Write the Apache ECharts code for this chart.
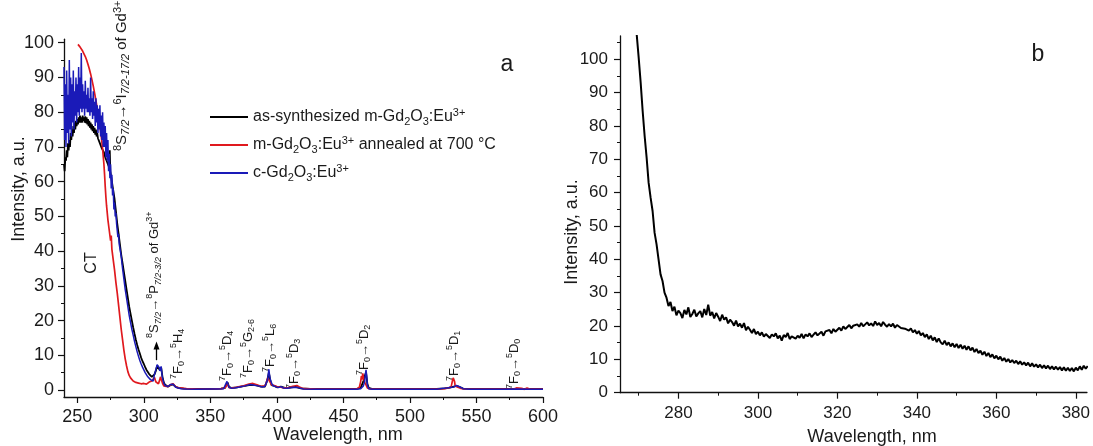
<!DOCTYPE html>
<html><head><meta charset="utf-8">
<script src="https://cdn.jsdelivr.net/npm/echarts@6/dist/echarts.min.js"></script>
<style>html,body{margin:0;padding:0;background:#fff}#c{width:1093px;height:446px}</style>
</head><body><div id="c"></div>
<script>
const FONT = '"Liberation Sans", Arial, Helvetica, sans-serif';
const TXT = '#1a1a1a';

// ---------- DATA ----------
const seriesNames = ['as-synthesized m-Gd2O3:Eu3+', 'm-Gd2O3:Eu3+ annealed at 700 °C', 'c-Gd2O3:Eu3+'];
const legendLabels = [
  '{n|as-synthesized m-Gd}{b|2}{n|O}{b|3}{n|:Eu}{p|3+}',
  '{n|m-Gd}{b|2}{n|O}{b|3}{n|:Eu}{p|3+}{n| annealed at 700 °C}',
  '{n|c-Gd}{b|2}{n|O}{b|3}{n|:Eu}{p|3+}'
];

const blackData = [[240,65],[240.5,63],[241,67],[241.5,66],[242,69],[242.5,67],[243,71],[243.5,69],[244,72],[244.5,70],[245,74],[245.5,72],[246,75],[246.5,73],[247,76],[247.5,74],[248,77],[248.5,75],[249,77.5],[249.5,76],[250,78],[250.5,76.5],[251,78.5],[251.5,77],[252,79],[252.5,77],[253,78.5],[253.5,77],[254,79],[254.5,77.5],[255,78.5],[255.5,77],[256,78.8],[256.5,76.8],[257,78.5],[257.5,76.5],[258,78],[258.5,76],[259,77.5],[259.5,75.5],[260,77],[260.5,75],[261,76.5],[261.5,74.5],[262,76],[262.5,74],[263,75.5],[263.5,73.5],[264,75],[264.5,73],[265,74],[265.5,72.5],[266,73],[266.5,71.5],[267,72],[267.5,70.5],[268,71],[268.5,69.5],[269,70],[270,68.5],[271,67],[272,66],[273,65],[274,64],[274.4,69],[274.8,63],[276,60],[277,57.5],[278,55],[279,51.5],[280,48],[281,45],[282,42],[283,39],[284,36.5],[285,34],[286,31.5],[287,29],[288,26.5],[289,24],[290,22],[291,20],[292,18],[293,16.2],[294,14.5],[295,13],[296,11.7],[297,10.5],[298,9.3],[299,8.3],[300,7.5],[301,6.6],[302,5.8],[303,5.2],[304,4.6],[305,4.2],[306,3.8],[307,3.4],[308,4.5],[309,5.5],[310,7],[311,6.8],[312,5.8],[313,6.5],[314,3.8],[315,2.2],[316,1.5],[318,1],[320,1.4],[321,1.8],[322,1.6],[324,0.9],[326,0.6],[330,0.4],[340,0.3],[350,0.3],[358,0.4],[361,0.6],[362,1.5],[363,2.2],[364,0.9],[366,0.6],[370,0.8],[375,1.1],[380,1.5],[384,1.4],[388,1],[391,1],[392,2],[393,3.2],[394,5],[395,2.8],[396,1.4],[398,1.2],[400,0.8],[403,1],[406,0.6],[410,0.7],[414,0.9],[418,0.5],[425,0.3],[440,0.3],[460,0.3],[463,0.7],[465,2.5],[466,4],[467,5],[468,1.8],[469,0.6],[472,0.3],[500,0.3],[520,0.3],[526,0.5],[530,0.7],[533,1],[535,1.2],[537,0.9],[540,0.4],[560,0.3],[600,0.3]];

const redData = [[250.5,99.5],[251,99],[252,98.8],[253,98.3],[254,97.6],[255,96.8],[256,96],[257,95],[258,93.8],[259,92.5],[260,91],[261,89.3],[262,87.5],[263,85.5],[264,83.3],[265,81],[266,78.5],[267,76],[268,73],[269,69.5],[270,65],[270.5,62],[271,58.5],[271.5,55.5],[272,53],[273,49],[274,46],[275,43],[275.5,44.5],[276,40.5],[277,37.5],[278,34.5],[279,31],[280,28],[280.5,27.5],[281,24.5],[282,21],[283,17.5],[284,14.5],[285,11.5],[286,9],[287,7],[288,5.3],[289,4.2],[290,3.5],[291,3],[292,2.6],[293,2.4],[294,2.2],[295,2.3],[296,2],[297,2.1],[298,1.8],[299,2],[300,1.9],[301,2.2],[302,1.7],[303,2],[304,2.3],[305,2],[306,2.6],[307,3],[308,3.6],[308.5,3.2],[309,2.4],[310,2],[311,1.8],[312,3],[312.5,3.8],[313,3.2],[314,2],[315,1.2],[316,0.9],[318,1],[320,1.5],[321,2],[322,1.8],[324,0.9],[327,0.6],[332,0.4],[340,0.3],[350,0.3],[358,0.4],[361,0.6],[362,1.2],[363,1.8],[364,0.7],[367,0.6],[371,0.9],[375,1.2],[379,1.7],[382,1.9],[385,1.5],[388,1.1],[391,1.2],[392,2],[393,3.5],[393.5,4],[394,3.2],[395,2.2],[396,1.5],[398,1.3],[400,1],[403,0.8],[405,0.6],[409,0.7],[412,1.1],[415,1.3],[417,0.9],[420,0.4],[430,0.3],[450,0.3],[460,0.3],[462,0.8],[463,2.5],[463.5,4],[464,3],[464.5,4.8],[465,4],[465.5,3],[466,2.2],[467,1.5],[468,0.6],[470,0.3],[500,0.3],[520,0.3],[526,0.4],[529,0.6],[531,1],[532,2.8],[532.5,3.5],[533,3.4],[533.5,2.5],[534,1.2],[536,0.8],[538,0.5],[541,0.3],[560,0.3],[578,0.3],[580,0.6],[581,0.2],[584,0.5],[586,0.2],[588,0.6],[590,0.3],[600,0.3]];

const blueData = [[240,93],[240.5,72],[241,88],[241.5,70],[242,92],[242.5,74],[243,85],[243.5,71],[244,95],[244.5,75],[245,90],[245.5,73],[246,88],[246.5,77],[247,92],[247.5,75],[248,86],[248.5,79],[249,90],[249.5,77],[250,88],[250.5,80],[251,93],[251.5,79],[252,90],[252.5,81],[253,97],[253.5,80],[254,88],[254.5,81],[255,86],[255.5,79],[256,89],[256.5,81],[257,85],[257.5,80],[258,87],[258.5,80],[259,84],[259.5,79],[260,90],[260.5,80],[261,84],[261.5,78],[262,86],[262.5,79],[263,83],[263.5,76],[264,84],[264.5,77],[265,82],[265.5,74],[266,81],[266.5,75],[267,82],[267.5,73],[268,79],[268.5,72],[269,80],[269.5,70],[270,77],[270.5,70],[271,76],[271.5,67],[272,74],[272.5,66],[273,72],[273.5,63],[274,68],[274.5,61],[275,65],[275.5,58],[276,62],[276.5,56],[277,58],[277.5,52],[278,54],[278.5,50],[279,51],[279.5,48],[280,48],[280.5,44],[281,45],[281.5,42],[282,42.5],[283,38.5],[284,35],[285,32],[286,29],[287,26.5],[288,24],[289,21.5],[290,19.5],[291,17.5],[292,15.8],[293,14],[294,12.5],[295,11],[296,9.7],[297,8.5],[298,7.5],[299,6.6],[300,5.8],[301,5],[302,4.5],[303,3.8],[304,3.4],[305,3],[306,2.7],[307,2.6],[307.5,3.5],[308,4.5],[309,5.8],[310,7.3],[310.5,7.5],[311,7.2],[311.5,6.5],[312,5.5],[312.5,6.2],[313,6.8],[313.5,5],[314,3.5],[315,2],[316,1.3],[317,1.2],[318,1],[319,1.3],[320,1.6],[321,2],[322,1.7],[323,1.2],[324,0.8],[326,0.6],[328,0.4],[332,0.3],[340,0.2],[350,0.3],[355,0.3],[360,0.4],[361.5,0.8],[362.5,2.5],[363,2.2],[364,0.8],[366,0.5],[368,0.6],[372,0.9],[376,1.2],[380,1.6],[383,1.4],[386,1.2],[389,0.9],[391,1],[392,1.5],[393,3],[393.5,4.5],[394,6],[394.5,4.2],[395,3.2],[395.5,3.6],[396,2],[397,1.3],[399,1],[401,0.7],[403,1],[405,0.6],[408,0.5],[412,0.8],[416,0.7],[420,0.3],[430,0.2],[445,0.2],[460,0.2],[463,0.4],[464,0.8],[465,1.2],[466,2.5],[466.5,4.5],[467,5.8],[467.5,4],[468,1.5],[469,0.4],[472,0.2],[500,0.2],[520,0.2],[525,0.5],[528,0.6],[531,0.8],[533,0.9],[535,1.3],[536,1.2],[538,0.8],[540,0.4],[545,0.2],[570,0.2],[580,0.3],[590,0.2],[600,0.2]];

const panelBData = [[269.5,107.5],[270,100.5],[270.5,93],[271,84.5],[271.5,77],[272,70.5],[272.5,63],[273,58.5],[273.5,54.5],[274,48],[274.5,44.5],[275,40],[275.5,35.5],[276,33.5],[276.5,30],[277,28.5],[277.5,26],[278,27.2],[278.5,24.5],[279,25.8],[279.5,23.2],[280,24.6],[280.5,23.9],[281,22.4],[281.5,24.8],[282,23.5],[282.5,25.6],[283,22.7],[283.5,23.6],[284,24.9],[284.5,22.9],[285,23.8],[285.5,24.5],[286,22.6],[286.5,25.1],[287,23.3],[287.5,26.4],[288,23.1],[288.5,24.2],[289,22.3],[289.5,23.9],[290,22.8],[290.5,21.5],[291,23.4],[291.5,21.9],[292,22.6],[292.5,20.8],[293,21.9],[293.5,21.2],[294,20.1],[294.5,21.6],[295,19.9],[295.5,20.7],[296,19.5],[296.5,20.9],[297,18.7],[297.5,19.8],[298,18.9],[298.5,17.9],[299,19.1],[299.5,17.6],[300,18.3],[300.5,17.2],[301,18.1],[301.5,16.8],[302,17.6],[302.5,17.9],[303,16.4],[303.5,17.5],[304,16.9],[304.5,17.8],[305,16.3],[305.5,17.1],[306,15.6],[306.5,17.3],[307,16.7],[307.5,17.9],[308,16.1],[308.5,16.9],[309,17.4],[309.5,16.2],[310,17.1],[310.5,16.5],[311,17.6],[311.5,16.3],[312,17.5],[312.5,16.9],[313,17.8],[313.5,16.7],[314,17.4],[314.5,18.1],[315,17.2],[315.5,17.7],[316,18.3],[316.5,17.1],[317,18.4],[317.5,17.9],[318,18.8],[318.5,17.8],[319,19.1],[319.5,18.3],[320,18.7],[320.5,19.5],[321,18.6],[321.5,19.9],[322,19.1],[322.5,19.6],[323,20.3],[323.5,19.3],[324,20.1],[324.5,19.6],[325,20.5],[325.5,19.8],[326,20.9],[326.5,19.9],[327,20.4],[327.5,21.1],[328,20.2],[328.5,20.8],[329,20.0],[329.5,21.4],[330,20.3],[330.5,20.9],[331,19.9],[331.5,21.2],[332,20.4],[332.5,19.8],[333,20.6],[333.5,19.9],[334,20.7],[334.5,19.5],[335,20.3],[335.5,20.8],[336,19.4],[336.5,19.9],[337,19.2],[337.5,19.7],[338,18.6],[338.5,19.3],[339,18.1],[339.5,18.8],[340,17.7],[340.5,18.5],[341,17.2],[341.5,17.9],[342,16.7],[342.5,17.5],[343,16.1],[343.5,17.1],[344,15.7],[344.5,16.6],[345,15.2],[345.5,16.3],[346,15.1],[346.5,14.5],[347,15.6],[347.5,14.3],[348,15.1],[348.5,13.9],[349,14.8],[349.5,13.6],[350,14.6],[350.5,13.4],[351,14.4],[351.5,13.2],[352,14.1],[352.5,12.9],[353,13.9],[353.5,12.7],[354,13.5],[354.5,12.2],[355,13.1],[355.5,11.9],[356,12.6],[356.5,11.4],[357,12.3],[357.5,11.0],[358,11.9],[358.5,10.7],[359,11.5],[359.5,10.3],[360,11.1],[360.5,10.0],[361,10.8],[361.5,9.6],[362,10.4],[362.5,9.3],[363,10.1],[363.5,9.1],[364,9.8],[364.5,8.9],[365,9.6],[365.5,8.6],[366,9.4],[366.5,8.4],[367,9.1],[367.5,8.2],[368,9.0],[368.5,7.9],[369,8.8],[369.5,7.8],[370,8.5],[370.5,7.6],[371,8.4],[371.5,7.4],[372,8.2],[372.5,7.3],[373,8.1],[373.5,7.1],[374,7.9],[374.5,7.0],[375,7.8],[375.5,6.9],[376,7.7],[376.5,6.7],[377,7.6],[377.5,6.6],[378,7.5],[378.5,6.5],[379,7.4],[379.5,6.4],[380,7.5],[380.5,6.7],[381,7.9],[381.5,6.9],[382,8.1],[382.5,7.2],[383,8]];

const arrowCoords = [[309.5, 8.6], [309.5, 12.8]];

const aXMajor = [250,300,350,400,450,500,550,600];
const aXMinor = [275,325,375,425,475,525,575];
const aYMajor = [0,10,20,30,40,50,60,70,80,90,100];
const aYMinor = [5,15,25,35,45,55,65,75,85,95];
const bXMajor = [280,300,320,340,360,380];
const bXMinor = [270,290,310,330,350,370];
const bYMajor = [0,10,20,30,40,50,60,70,80,90,100];
const bYMinor = [5,15,25,35,45,55,65,75,85,95,105];

// annotation texts (rich markup)
const annoTexts = [
  '{p|8}{n|S}{i|7/2}{n|→}{p|6}{n|I}{i|7/2-17/2}{n| of Gd}{p|3+}',
  '{p|8}{n|S}{i|7/2}{n|→}{p|8}{n|P}{i|7/2-3/2}{n| of Gd}{p|3+}',
  '{p|7}{n|F}{b|0}{n|→}{p|5}{n|H}{b|4}',
  '{p|7}{n|F}{b|0}{n|→}{p|5}{n|D}{b|4}',
  '{p|7}{n|F}{b|0}{n|→}{p|5}{n|G}{b|2-6}',
  '{p|7}{n|F}{b|0}{n|→}{p|5}{n|L}{b|6}',
  '{p|7}{n|F}{b|0}{n|→}{p|5}{n|D}{b|3}',
  '{p|7}{n|F}{b|0}{n|→}{p|5}{n|D}{b|2}',
  '{p|7}{n|F}{b|0}{n|→}{p|5}{n|D}{b|1}',
  '{p|7}{n|F}{b|0}{n|→}{p|5}{n|D}{b|0}'
];
// layout for annotations: [x, yBottom, fontSize]
const annoLayout = [[122,151,15],[154,338,13],[178,379,13],[227,381,13],[248,378,13],[270,372,13],[294,389,13],[364,375,13],[454,381,13],[514,389,13]];

// ---------- HELPERS ----------
function rich(fs) {
  const s = Math.round(fs * 0.72);
  return {
    n: {fontSize: fs, fontFamily: FONT, fill: TXT, color: TXT, lineHeight: fs + 4, verticalAlign: 'middle'},
    b: {fontSize: s, fontFamily: FONT, fill: TXT, color: TXT, lineHeight: s, verticalAlign: 'bottom'},
    i: {fontSize: s, fontFamily: FONT, fontStyle: 'italic', fill: TXT, color: TXT, lineHeight: s, verticalAlign: 'bottom'},
    p: {fontSize: s, fontFamily: FONT, fill: TXT, color: TXT, lineHeight: s, verticalAlign: 'top'}
  };
}
function vText(x, y, text, fs, align) {
  return {type: 'text', x: x, y: y, rotation: Math.PI / 2, silent: true,
    style: {text: text, rich: rich(fs), fontSize: fs, fontFamily: FONT, fill: TXT, align: align || 'left', verticalAlign: 'middle'}};
}
function hText(x, y, text, fs) {
  return {type: 'text', x: x, y: y, silent: true,
    style: {text: text, fontSize: fs, fontFamily: FONT, fill: TXT, align: 'center', verticalAlign: 'middle'}};
}

function majorAxis(grid, min, max, major, margin, fs, pos) {
  return {type: 'value', gridIndex: grid, min: min, max: max, position: pos,
    axisLine: {show: true, onZero: false, lineStyle: {color: '#111', width: 1.3}},
    axisTick: {show: true, customValues: major, length: 6, lineStyle: {color: '#111', width: 1.2}},
    axisLabel: {show: true, customValues: major, margin: margin, fontSize: fs, fontFamily: FONT, color: TXT},
    splitLine: {show: false}};
}
function minorAxis(grid, min, max, minor, pos) {
  return {type: 'value', gridIndex: grid, min: min, max: max, position: pos,
    axisLine: {show: false, onZero: false},
    axisTick: {show: true, customValues: minor, length: 3, lineStyle: {color: '#111', width: 1}},
    axisLabel: {show: false}, splitLine: {show: false}};
}

const annoGraphics = annoTexts.map((t, k) => vText(annoLayout[k][0], annoLayout[k][1], t, annoLayout[k][2]));

const chart = echarts.init(document.getElementById('c'), null, {renderer: 'canvas'});
chart.setOption({
  animation: false,
  backgroundColor: '#fff',
  grid: [
    {left: 64, top: 39.2, width: 479, height: 357.8},
    {left: 620, top: 36, width: 473, height: 356.7}
  ],
  xAxis: [
    majorAxis(0, 240, 600, aXMajor, 11, 18, 'bottom'),
    minorAxis(0, 240, 600, aXMinor, 'bottom'),
    majorAxis(1, 265.3, 382.8, bXMajor, 12, 17, 'bottom'),
    minorAxis(1, 265.3, 382.8, bXMinor, 'bottom')
  ],
  yAxis: [
    majorAxis(0, -2, 101, aYMajor, 10, 18, 'left'),
    minorAxis(0, -2, 101, aYMinor, 'left'),
    majorAxis(1, 0, 107, bYMajor, 12, 17, 'left'),
    minorAxis(1, 0, 107, bYMinor, 'left')
  ],
  legend: {
    data: seriesNames, orient: 'vertical', left: 210, top: 107, padding: 0,
    icon: 'rect', itemWidth: 38, itemHeight: 2, itemGap: 8, selectedMode: false,
    formatter: name => legendLabels[seriesNames.indexOf(name)],
    textStyle: {fontSize: 16, fontFamily: FONT, color: TXT, rich: {
      n: {fontSize: 16, fontFamily: FONT, color: TXT, lineHeight: 20, verticalAlign: 'middle'},
      b: {fontSize: 11, fontFamily: FONT, color: TXT, lineHeight: 11, verticalAlign: 'bottom'},
      p: {fontSize: 11, fontFamily: FONT, color: TXT, lineHeight: 11, verticalAlign: 'top'}
    }}
  },
  series: [
    {name: seriesNames[0], type: 'line', xAxisIndex: 0, yAxisIndex: 0, data: blackData, showSymbol: false,
      lineStyle: {color: '#000', width: 1.8}, itemStyle: {color: '#000'}},
    {name: seriesNames[1], type: 'line', xAxisIndex: 0, yAxisIndex: 0, data: redData, showSymbol: false,
      lineStyle: {color: '#e0191e', width: 1.7}, itemStyle: {color: '#e0191e'}},
    {name: seriesNames[2], type: 'line', xAxisIndex: 0, yAxisIndex: 0, data: blueData, showSymbol: false,
      lineStyle: {color: '#1a1ab8', width: 1.5}, itemStyle: {color: '#1a1ab8'},
      markLine: {silent: true, symbol: ['none', 'triangle'], symbolSize: [6, 8], label: {show: false},
        lineStyle: {color: '#000', width: 1.3, type: 'solid'},
        data: [[{coord: arrowCoords[0]}, {coord: arrowCoords[1]}]]}},
    {name: 'panel b', type: 'line', xAxisIndex: 2, yAxisIndex: 2, data: panelBData, showSymbol: false,
      lineStyle: {color: '#000', width: 2}, itemStyle: {color: '#000'}}
  ],
  graphic: [
    vText(19, 189, 'Intensity, a.u.', 18, 'center'),
    hText(338, 435, 'Wavelength, nm', 18),
    vText(572, 232, 'Intensity, a.u.', 18, 'center'),
    hText(872, 437, 'Wavelength, nm', 18),
    vText(92, 263, 'CT', 16, 'center'),
    hText(507, 65, 'a', 23),
    hText(1038, 55, 'b', 23)
  ].concat(annoGraphics)
});
</script>
</body></html>
